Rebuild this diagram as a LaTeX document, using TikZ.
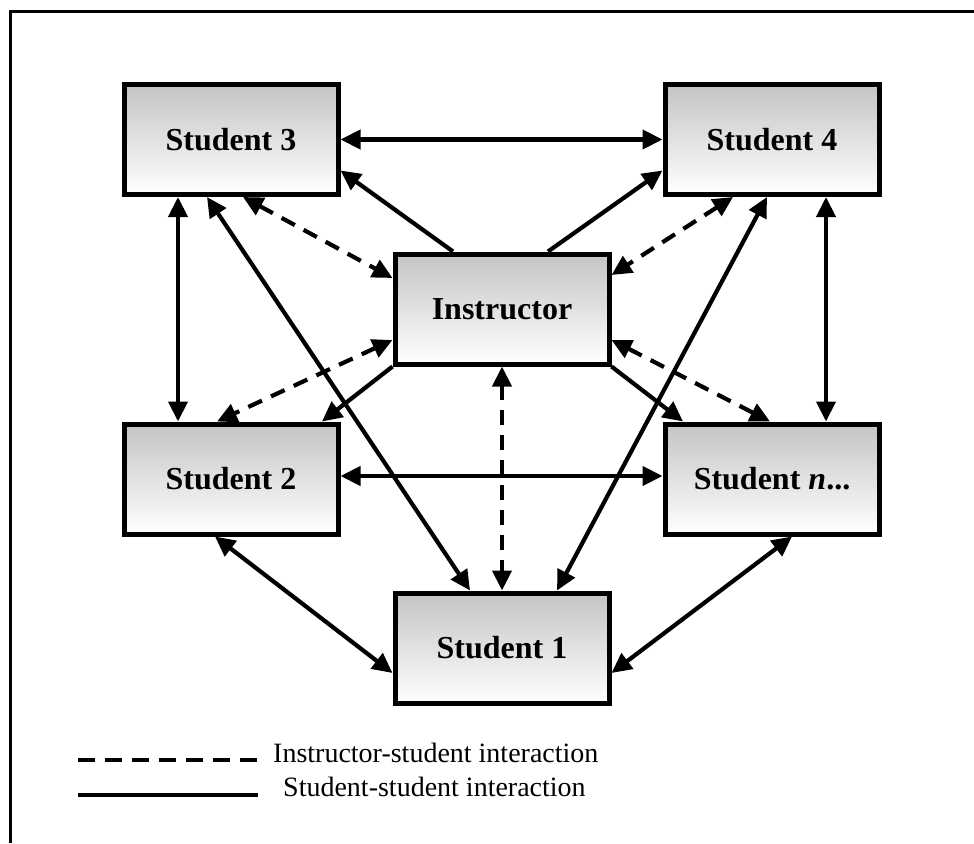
\documentclass[tikz,border=0pt]{standalone}
\usepackage{fontspec}
\setmainfont{Liberation Serif}
\usetikzlibrary{arrows.meta}
\tikzset{
  box/.style={draw=black, line width=5pt, top color={rgb,255:red,196;green,196;blue,196}, bottom color=white,
    minimum width=214pt, minimum height=110pt, inner sep=0pt,
    font=\bfseries\fontsize{32}{36}\selectfont},
  conn/.style={line width=4.2pt, {Triangle[length=20pt,width=19pt]}-{Triangle[length=20pt,width=19pt]}},
  oneway/.style={line width=4.2pt, -{Triangle[length=20pt,width=19pt]}},
  dashconn/.style={conn, dash pattern=on 15pt off 10pt},
  legendtext/.style={anchor=west, inner sep=0pt, font=\fontsize{28}{32}\selectfont}
}
\begin{document}
\begin{tikzpicture}[x=1pt,y=-1pt]
\useasboundingbox (0,0) rectangle (974,843);
% frame
\coordinate (fa) at (10,843);
\coordinate (fb) at (10,12);
\coordinate (fc) at (974,12);
\draw[line width=3pt] (fa) -- (fb) -- (fc);
% boxes
\node[box] (s3) at (231,139.5) {Student 3};
\node[box] (s4) at (772,139.5) {Student 4};
\node[box] (ins) at (502,309) {Instructor};
\node[box] (s2) at (231,479) {Student 2};
\node[box] (sn) at (772,479) {Student \textit{n}...};
\node[box] (s1) at (502,648) {Student 1};
% student-student
\draw[conn] (s3.east) -- (s4.west);
\draw[conn] ([xshift=-53pt]s3.south) -- ([xshift=-53pt]s2.north);
\draw[conn] ([xshift=54pt]s4.south) -- ([xshift=54pt]sn.north);
\draw[conn] ([yshift=3pt]s2.east) -- ([yshift=3pt]sn.west);
\draw[conn] ([xshift=-24pt]s3.south) -- ([xshift=-32pt]s1.north);
\draw[conn] ([xshift=-5pt]s4.south) -- ([xshift=55pt]s1.north);
\draw[conn] ([xshift=-16pt]s2.south) -- ([yshift=-25pt]s1.west);
\draw[conn] ([xshift=20pt]sn.south) -- ([yshift=-25pt]s1.east);
% instructor to students (solid)
\draw[oneway] ([xshift=-49pt]ins.north) -- ([yshift=-31pt]s3.east);
\draw[oneway] ([xshift=46pt]ins.north) -- ([yshift=-31pt]s4.west);
\draw[oneway] (ins.south west) -- ([xshift=91pt]s2.north);
\draw[oneway] (ins.south east) -- ([xshift=-89pt]sn.north);
% instructor-student (dashed)
\draw[dashconn] ([xshift=12pt]s3.south) -- ([yshift=31pt]ins.west);
\draw[dashconn] ([xshift=-39pt]s4.south) -- ([yshift=34pt]ins.east);
\draw[dashconn] ([yshift=-31pt]ins.west) -- ([xshift=-14pt]s2.north);
\draw[dashconn] ([yshift=-31pt]ins.east) -- ([xshift=-2pt]sn.north);
\draw[dashconn] (ins.south) -- (s1.north);
% legend
\coordinate (l1a) at (78,760);
\coordinate (l1b) at (258,760);
\coordinate (l2a) at (78,795);
\coordinate (l2b) at (258,795);
\draw[line width=3.5pt, dash pattern=on 17pt off 10pt] (l1a) -- (l1b);
\draw[line width=3.5pt] (l2a) -- (l2b);
\node[legendtext] (t1) at (273,753) {Instructor-student interaction};
\node[legendtext] (t2) at (283,787) {Student-student interaction};
\end{tikzpicture}
\end{document}
